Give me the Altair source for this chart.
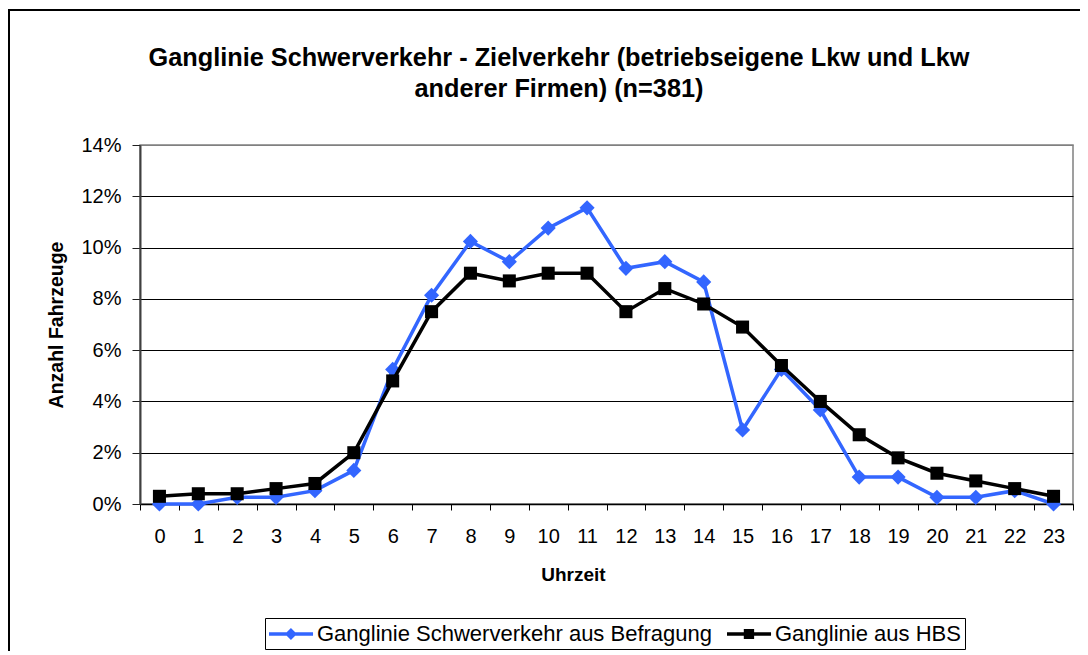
import altair as alt
import pandas as pd

# ---- data ----
hours = [str(h) for h in range(24)]
befragung_pct = [0.0, 0.0, 0.26, 0.26, 0.52, 1.31, 5.25, 8.14, 10.24, 9.45, 10.76, 11.55,
                 9.19, 9.45, 8.66, 2.89, 5.25, 3.67, 1.05, 1.05, 0.26, 0.26, 0.52, 0.0]
hbs_pct = [0.3, 0.4, 0.4, 0.6, 0.8, 2.0, 4.8, 7.5, 9.0, 8.7, 9.0, 9.0,
           7.5, 8.4, 7.8, 6.9, 5.4, 4.0, 2.7, 1.8, 1.2, 0.9, 0.6, 0.3]
series_names = ["Ganglinie Schwerverkehr aus Befragung", "Ganglinie aus HBS"]
series_colors = ["#3366FF", "#000000"]
y_tick_values = [0.0, 0.02, 0.04, 0.06, 0.08, 0.10, 0.12, 0.14]
title_lines = ["Ganglinie Schwerverkehr - Zielverkehr (betriebseigene Lkw und Lkw",
               "anderer Firmen) (n=381)"]
x_title = "Uhrzeit"
y_title = "Anzahl Fahrzeuge"

rows = []
for name, vals in zip(series_names, [befragung_pct, hbs_pct]):
    for h, v in zip(hours, vals):
        rows.append({"hour": h, "value": v / 100.0, "series": name})
df = pd.DataFrame(rows)

FONT = "Liberation Sans"
W, H = 933, 359

# legend symbols: line with marker (custom paths)
P_DIAMOND = "M-1,-0.14H2.67V0.14H-1Z M0.83,-0.5L1.33,0L0.83,0.5L0.33,0Z"
P_SQUARE = "M-1,-0.15H2.67V0.15H-1Z M0.4,-0.42H1.26V0.42H0.4Z"

legend = alt.Legend(
    title=None, orient="none", legendX=125, legendY=473, direction="horizontal",
    padding=4, strokeColor="black", fillColor="white",
    symbolSize=576, symbolStrokeWidth=0, symbolOpacity=1, labelOffset=24, columnPadding=14,
    labelFontSize=22, labelFont=FONT, labelColor="black", labelLimit=1000,
)

color_scale = alt.Scale(domain=series_names, range=series_colors)

x_enc = alt.X(
    "hour:O", sort=hours, bandPosition=0.5,
    scale=alt.Scale(type="band", paddingInner=0, paddingOuter=0),
    axis=alt.Axis(
        title=x_title, labelAngle=0, tickBand="extent", tickSize=6, tickColor="black",
        domainColor="black", domainWidth=1.5, labelFontSize=20, labelColor="black",
        labelPadding=16, labelFont=FONT, titleFont=FONT, titleFontSize=19,
        titleFontWeight="bold", titleColor="black", titleX=433, titleY=70,
        titleBaseline="middle", grid=False,
    ),
)
y_enc = alt.Y(
    "value:Q", scale=alt.Scale(domain=[0, 0.14], nice=False, zero=True),
    axis=alt.Axis(
        title=y_title, values=y_tick_values, format=".0%", tickSize=8, tickColor="#202020",
        labelPadding=11, labelFontSize=20, labelColor="black", labelFont=FONT,
        domainColor="#404040", domainWidth=2,
        gridColor={"condition": {"test": "datum.value >= 0.139", "value": "#808080"}, "value": "black"},
        gridWidth=1, titleFont=FONT, titleFontSize=19.5, titleFontWeight="bold",
        titleColor="black", titleX=-84, titleY=H / 2, titleBaseline="middle",
    ),
)

color_enc = alt.Color("series:N", scale=color_scale, legend=legend)

base = alt.Chart(df)
layers = []
shapes = ["diamond", "square"]
sizes = [230, 170]
for name, shape, size in zip(series_names, shapes, sizes):
    sub = base.transform_filter(alt.datum.series == name)
    layers.append(sub.mark_line(strokeWidth=3.5).encode(x=x_enc, y=y_enc, color=color_enc))
    layers.append(sub.mark_point(shape=shape, filled=True, size=size, opacity=1).encode(
        x=x_enc, y=y_enc, color=color_enc))

# legend-only layer (no rows drawn; legend comes from the explicit scale domains)
legend_layer = base.transform_filter("false").mark_point(filled=True, opacity=1).encode(
    x=x_enc, y=y_enc, color=color_enc,
    shape=alt.Shape("series:N", scale=alt.Scale(domain=series_names, range=[P_DIAMOND, P_SQUARE]),
                    legend=legend),
)

one = alt.Data(values=[{"k": 1}])
border = alt.Chart(one).mark_rect(filled=False, stroke="black", strokeWidth=2).encode(
    x=alt.value(-131), x2=alt.value(1000), y=alt.value(-135), y2=alt.value(600))
title = alt.Chart(one).mark_text(
    font=FONT, fontSize=25.3, fontWeight="bold", lineHeight=31, align="center",
    baseline="middle", color="black").encode(
    x=alt.value(419), y=alt.value(-87.5), text=alt.value(title_lines))

chart = alt.layer(border, legend_layer, *layers, title).properties(
    width=W, height=H,
    padding={"left": 132, "top": 137, "right": 7, "bottom": 147},
    autosize=alt.AutoSizeParams(type="none"),
).configure(font=FONT, background="white").configure_view(
    stroke="#808080", strokeWidth=1.5, fill="white")

chart.save("out.html", embed_options={"renderer": "svg", "actions": False})
